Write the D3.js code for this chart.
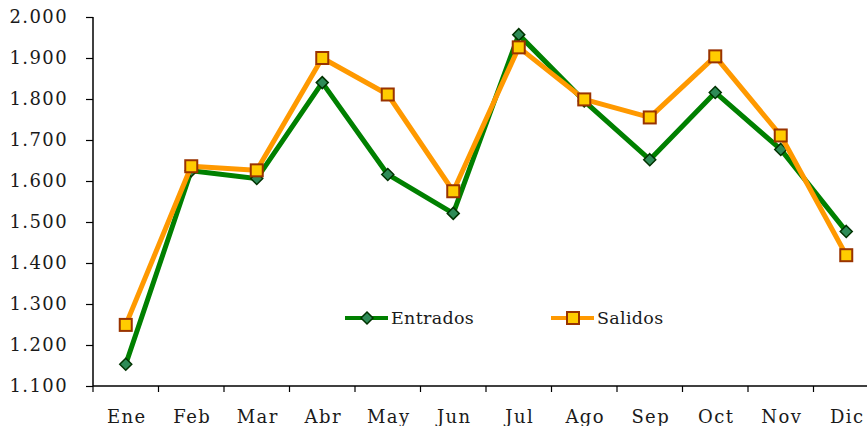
<!DOCTYPE html>
<html><head><meta charset="utf-8">
<script src="https://cdn.jsdelivr.net/npm/d3@7"></script>
<style>
body{margin:0;background:#fff;}
svg text{font-family:"DejaVu Serif",serif;fill:#1a1a1a;letter-spacing:1.4px;}
</style></head>
<body><svg id="c" width="867" height="426"></svg>
<script>
const months = ["Ene","Feb","Mar","Abr","May","Jun","Jul","Ago","Sep","Oct","Nov","Dic"];
const entrados = [1.153,1.625,1.606,1.840,1.616,1.521,1.957,1.795,1.652,1.816,1.677,1.477];
const salidos  = [1.249,1.636,1.626,1.900,1.811,1.575,1.926,1.799,1.755,1.904,1.711,1.419];
const yTicks = [1.1,1.2,1.3,1.4,1.5,1.6,1.7,1.8,1.9,2.0];
const seriesNames = ["Entrados","Salidos"];

const svg = d3.select("#c");
const x = d3.scaleBand().domain(months).range([93, 879]);
const y = d3.scaleLinear().domain([1.1, 2.0]).range([386, 17]);

// y axis
const ya = svg.append("g").attr("transform","translate(93,0)")
  .call(d3.axisLeft(y).tickValues(yTicks).tickSize(7).tickPadding(18)
    .tickFormat(v => d3.format(".3f")(v)));
ya.select(".domain").attr("stroke","#000").attr("stroke-width",1.5).attr("d","M0,17V386");
ya.selectAll(".tick line").attr("stroke","#000").attr("stroke-width",1.2);
ya.selectAll("text").style("font-size","18px").attr("fill","#1a1a1a").attr("font-family","DejaVu Serif");

// x axis
const xa = svg.append("g").attr("transform","translate(0,386)");
xa.append("line").attr("x1",93).attr("x2",879).attr("stroke","#000").attr("stroke-width",1.5);
const edges = months.map(m => x(m)).concat([x.range()[1]]);
xa.selectAll("line.t").data(edges).enter().append("line").attr("class","t")
  .attr("x1",d=>d).attr("x2",d=>d).attr("y1",0).attr("y2",6).attr("stroke","#000").attr("stroke-width",1.2);
xa.selectAll("text").data(months).enter().append("text")
  .attr("x",d=>x(d)+x.bandwidth()/2+1).attr("y",37).attr("text-anchor","middle")
  .style("font-size","18px").text(d=>d);

const cx = m => x(m) + x.bandwidth()/2;
const line = d3.line().x((d,i)=>cx(months[i])).y(d=>y(d));

function diamond(g, px, py){
  g.append("path").attr("d",`M${px},${py-6}L${px+6},${py}L${px},${py+6}L${px-6},${py}Z`)
    .attr("fill","#2e8b57").attr("stroke","#003300").attr("stroke-width",1.5);
}
function square(g, px, py){
  g.append("rect").attr("x",px-6).attr("y",py-6).attr("width",12).attr("height",12)
    .attr("fill","#ffcc00").attr("stroke","#993300").attr("stroke-width",2);
}

const gE = svg.append("g");
gE.append("path").datum(entrados).attr("d",line).attr("fill","none")
  .attr("stroke","#008000").attr("stroke-width",5).attr("stroke-linejoin","round");
entrados.forEach((v,i)=>diamond(gE, cx(months[i]), y(v)));

const gS = svg.append("g");
gS.append("path").datum(salidos).attr("d",line).attr("fill","none")
  .attr("stroke","#ff9900").attr("stroke-width",5).attr("stroke-linejoin","round");
salidos.forEach((v,i)=>square(gS, cx(months[i]), y(v)));

// legend
const lg = svg.append("g");
const legItems = [{name:seriesNames[0],x:345,c:"#008000",m:diamond},{name:seriesNames[1],x:551,c:"#ff9900",m:square}];
legItems.forEach(it=>{
  lg.append("line").attr("x1",it.x).attr("x2",it.x+43).attr("y1",318).attr("y2",318)
    .attr("stroke",it.c).attr("stroke-width",4);
  it.m(lg, it.x+22, 318);
  lg.append("text").attr("x",it.x+46).attr("y",324).style("font-size","17.5px")
    .style("letter-spacing","0.3px").text(it.name);
});
</script></body></html>
